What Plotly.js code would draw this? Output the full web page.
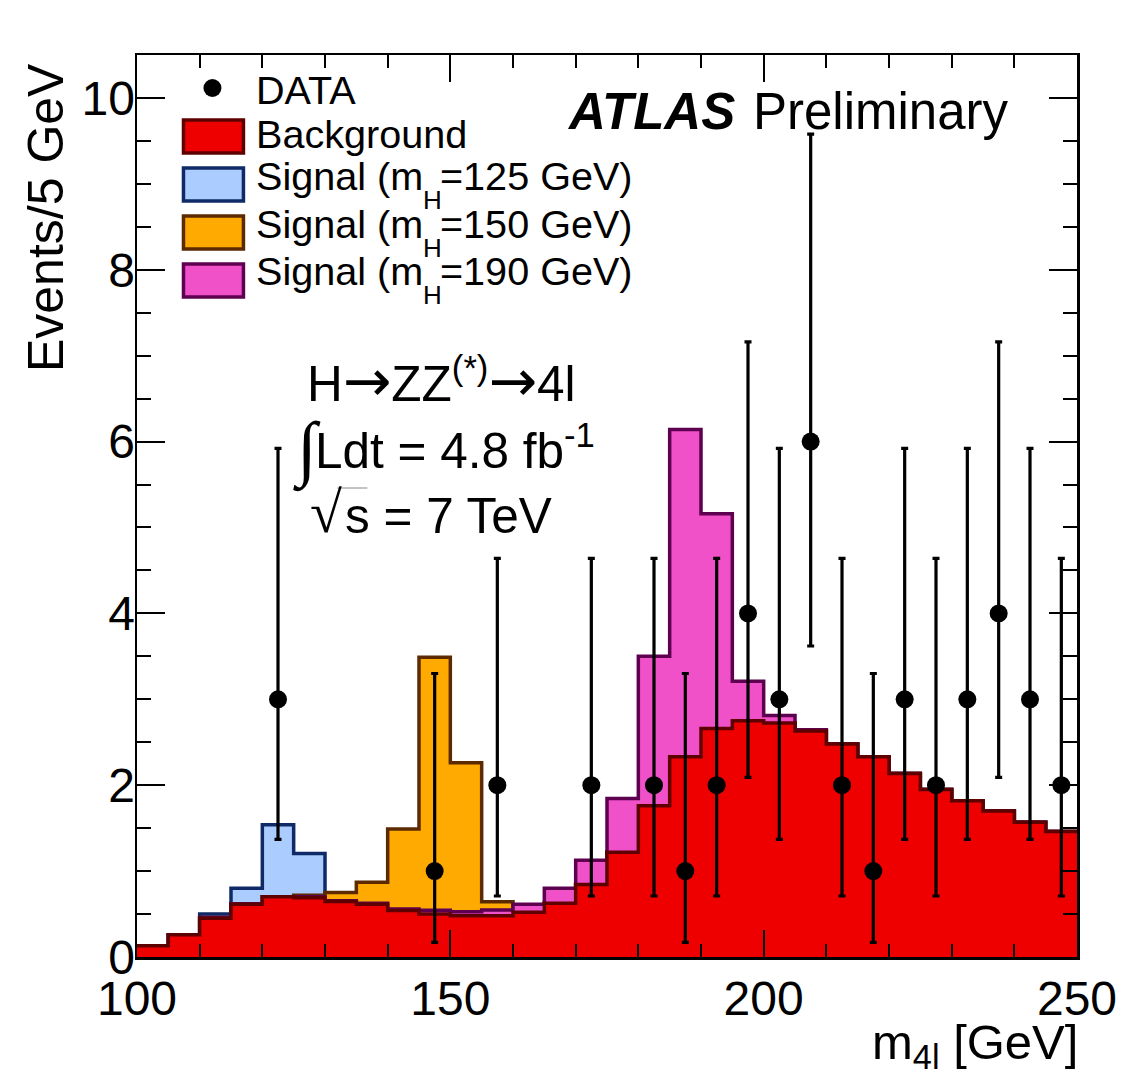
<!DOCTYPE html>
<html>
<head>
<meta charset="utf-8">
<script src="https://cdn.plot.ly/plotly-3.0.1.min.js"></script>
<style>html,body{margin:0;padding:0;background:#fff}</style>
</head>
<body>
<div id="chart" style="width:1134px;height:1088px"></div>
<script>
// Histogram bin edges, 100..250 GeV in 5 GeV bins (last value repeated to close the final step)
const binEdges = [100,105,110,115,120,125,130,135,140,145,150,155,160,165,170,175,180,185,190,195,200,205,210,215,220,225,230,235,240,245,250];
const background = [0.13,0.26,0.45,0.615,0.70,0.69,0.645,0.615,0.54,0.50,0.48,0.48,0.52,0.625,0.845,1.22,1.76,2.33,2.66,2.75,2.725,2.63,2.48,2.33,2.135,1.95,1.82,1.70,1.57,1.46,1.46];
const signal125 = [0.13,0.26,0.50,0.80,1.54,1.205,0.65,0.62,0.55,0.51,0.49,0.48,0.52,0.625,0.845,1.22,1.76,2.33,2.66,2.75,2.725,2.63,2.48,2.33,2.135,1.95,1.82,1.70,1.57,1.46,1.46];
const signal150 = [0.13,0.26,0.46,0.62,0.70,0.72,0.75,0.87,1.49,3.49,2.26,0.643,0.53,0.63,0.85,1.22,1.76,2.33,2.66,2.75,2.725,2.63,2.48,2.33,2.135,1.95,1.82,1.70,1.57,1.46,1.46];
const signal190 = [0.13,0.26,0.46,0.62,0.70,0.70,0.655,0.625,0.56,0.545,0.527,0.547,0.615,0.80,1.125,1.845,3.50,6.14,5.16,3.21,2.81,2.645,2.48,2.33,2.135,1.95,1.82,1.70,1.57,1.46,1.46];
const dataX = [122.5,147.5,157.5,172.5,182.5,187.5,192.5,197.5,202.5,207.5,212.5,217.5,222.5,227.5,232.5,237.5,242.5,247.5];
const dataY = [3,1,2,2,2,1,2,4,3,6,2,1,3,2,3,4,3,2];
const dataHigh = [5.92,3.30,4.64,4.64,4.64,3.30,4.64,7.16,5.92,9.58,4.64,3.30,5.92,4.64,5.92,7.16,5.92,4.64];
const dataLow = [1.37,0.17,0.71,0.71,0.71,0.17,0.71,2.09,1.37,3.62,0.71,0.17,1.37,0.71,1.37,2.09,1.37,0.71];
const legendLabels = ["DATA","Background","Signal (m","Signal (m","Signal (m"];
const massLabels = ["=125 GeV)","=150 GeV)","=190 GeV)"];
const xTicks = [100,150,200,250];
const yTicks = [0,2,4,6,8,10];

const colors = {
  red:{fill:"#ee0000",line:"#5e0000"},
  blue:{fill:"#aaccff",line:"#0f2a66"},
  orange:{fill:"#ffaa00",line:"#5c2a00"},
  pink:{fill:"#f050c8",line:"#5e0050"}
};
const L=136.5,R=1077,T=55,B=957;
const px=x=>(x-L)/(R-L), py=y=>(B-y)/(B-T);
const FONT="Liberation Sans, Arial, sans-serif";
const ARROW='<span style="font-family:DejaVu Sans;font-size:58px">→</span>';

function hist(name,vals,c){
  return {type:"scatter",mode:"lines",name:name,x:binEdges,y:vals,
    line:{shape:"hv",color:c.line,width:3.5},fill:"tozeroy",fillcolor:c.fill,hoverinfo:"skip"};
}
const traces=[
  hist("Signal (mH=125 GeV)",signal125,colors.blue),
  hist("Signal (mH=150 GeV)",signal150,colors.orange),
  hist("Signal (mH=190 GeV)",signal190,colors.pink),
  hist("Background",background,colors.red),
  {type:"scatter",mode:"markers",name:"DATA",x:dataX,y:dataY,
   marker:{color:"#000",size:18},
   error_y:{type:"data",symmetric:false,
     array:dataHigh.map((v,i)=>v-dataY[i]),
     arrayminus:dataY.map((v,i)=>v-dataLow[i]),
     color:"#000",thickness:3.2,width:3.5}}
];

function txt(text,x,baseY,size,opts){
  return Object.assign({text:text,xref:"paper",yref:"paper",x:px(x-2),y:py(baseY-2-size*0.30),
    xanchor:"left",yanchor:"middle",showarrow:false,borderpad:0,
    font:{family:FONT,size:size,color:"#000"}},opts||{});
}
const LS=39.6;
const annotations=[
  txt(legendLabels[0],257,104,LS),
  txt(legendLabels[1],257,148,LS),
  txt(legendLabels[2],257,190,LS),txt("H",424,210,26),txt(massLabels[0],441,190,LS),
  txt(legendLabels[3],257,238,LS),txt("H",424,258,26),txt(massLabels[1],441,238,LS),
  txt(legendLabels[4],257,285,LS),txt("H",424,305,26),txt(massLabels[2],441,285,LS),
  txt("<b><i>ATLAS</i></b>",568,129,51),
  txt("Preliminary",754,129,51),
  txt("H"+ARROW+"ZZ<sup>(*)</sup>"+ARROW+"4l",308,398,49.5),
  txt("∫",294,474,72,{font:{family:"Liberation Serif, serif",size:72,color:"#000"}}),
  txt("Ldt = 4.8 fb<sup>-1</sup>",316,464,49.5),
  txt("√",311,532,58,{font:{family:"Liberation Serif, serif",size:58,color:"#000"}}),
  txt("s = 7 TeV",346,532,49.5),
  txt("m<sub>4l</sub> [GeV]",1081,1062,49,{xanchor:"right"}),
  {text:"Events/5 GeV",xref:"paper",yref:"paper",x:px(45),y:py(62),xanchor:"center",yanchor:"top",
   textangle:-90,showarrow:false,borderpad:0,font:{family:FONT,size:50,color:"#000"}}
];
function swatch(top,bottom,c){
  return {type:"rect",xref:"paper",yref:"paper",x0:px(183),x1:px(243),y0:py(bottom),y1:py(top),
    fillcolor:c.fill,line:{color:c.line,width:3.5},layer:"above"};
}
const shapes=[
  swatch(120,153,colors.red),swatch(168,201,colors.blue),
  swatch(216,249,colors.orange),swatch(264,297,colors.pink),
  {type:"circle",xref:"paper",yref:"paper",x0:px(203),x1:px(221),y0:py(97),y1:py(79),fillcolor:"#000",line:{width:0},layer:"above"},
  {type:"line",xref:"paper",yref:"paper",x0:px(337),x1:px(367),y0:py(488),y1:py(488),line:{color:"#888",width:1},layer:"above"}
];
const tickFont={family:FONT,size:48,color:"#000"};
const layout={
  width:1134,height:1088,margin:{l:L,r:1134-R,t:T,b:1088-B,pad:0},
  paper_bgcolor:"#fff",plot_bgcolor:"#fff",showlegend:false,hovermode:false,
  xaxis:{range:[100,250],tickvals:xTicks,ticktext:xTicks.map(String),ticks:"inside",ticklen:27,tickwidth:2,tickcolor:"#000",
    showline:true,linewidth:2.5,linecolor:"#000",mirror:"allticks",showgrid:false,zeroline:false,tickfont:tickFont,
    ticklabelstandoff:-2,
    minor:{dtick:10,ticks:"inside",ticklen:13,tickwidth:2,tickcolor:"#000",showgrid:false}},
  yaxis:{range:[0,10.5],tickvals:yTicks,ticktext:yTicks.map(String),ticks:"inside",ticklen:28,tickwidth:2,tickcolor:"#000",
    showline:true,linewidth:2.5,linecolor:"#000",mirror:"allticks",showgrid:false,zeroline:false,tickfont:tickFont,
    ticklabelstandoff:-10,
    minor:{dtick:0.5,ticks:"inside",ticklen:14,tickwidth:2,tickcolor:"#000",showgrid:false}},
  annotations:annotations,shapes:shapes
};
Plotly.newPlot("chart",traces,layout,{displayModeBar:false,staticPlot:true});
</script>
</body>
</html>
